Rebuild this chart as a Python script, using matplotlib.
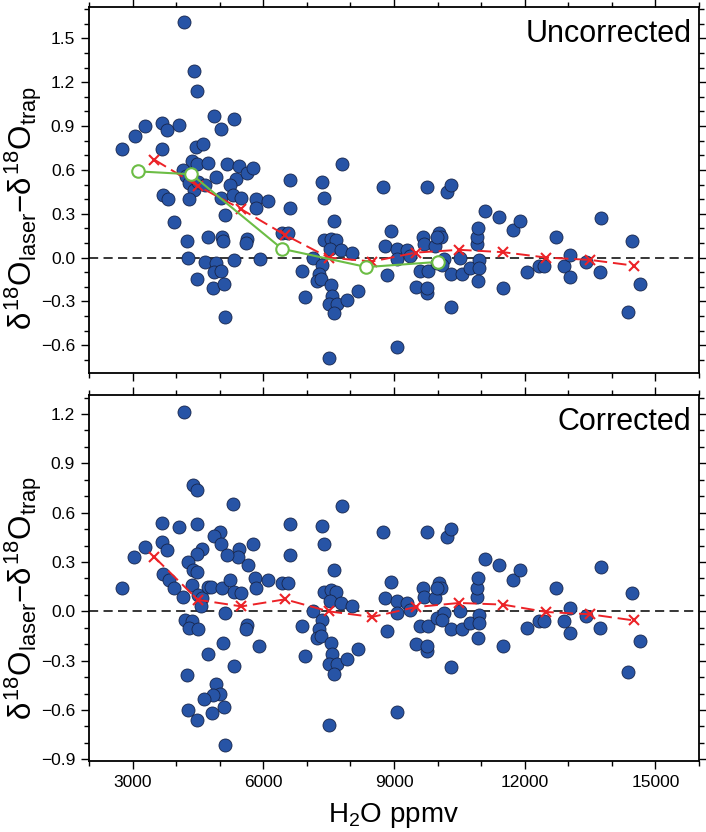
import matplotlib
matplotlib.use("Agg")
import matplotlib.pyplot as plt
from matplotlib.ticker import MultipleLocator, FuncFormatter

plt.rcParams['font.family'] = ['Liberation Sans', 'DejaVu Sans']
plt.rcParams['mathtext.fontset'] = 'custom'
plt.rcParams['mathtext.rm'] = 'Liberation Sans'
plt.rcParams['mathtext.it'] = 'Liberation Sans'
plt.rcParams['mathtext.bf'] = 'Liberation Sans:bold'

# low-humidity points (differ between the two panels)
x_unc_low = [4188, 4402, 4479, 2755, 3046, 3291, 3674, 3782, 3682, 4073,
             4862, 5023, 5322, 4464, 4609, 4364, 4479, 4732, 4165, 4226,
             4303, 4418, 4494, 4663, 4287, 3705, 3820, 3958, 4916, 5161,
             5437, 5375, 5230, 5038, 5307, 5491, 5123, 5621, 5759, 5828,
             5828, 6111, 4249, 4272, 4732, 5054, 5077, 5621, 5605, 4655,
             4908, 4877, 5031, 5337, 5920, 4479, 4839, 5100, 5115]
y_unc_low = [1.61, 1.28, 1.14, 0.74, 0.83, 0.90, 0.92, 0.87, 0.74, 0.91,
             0.97, 0.88, 0.95, 0.76, 0.78, 0.66, 0.64, 0.65, 0.60, 0.56,
             0.51, 0.46, 0.52, 0.50, 0.40, 0.43, 0.40, 0.24, 0.55, 0.64,
             0.63, 0.54, 0.50, 0.41, 0.43, 0.41, 0.29, 0.58, 0.61, 0.40,
             0.34, 0.39, 0.11, 0.00, 0.14, 0.14, 0.11, 0.13, 0.10, -0.03,
             -0.04, -0.10, -0.09, -0.02, -0.01, -0.15, -0.21, -0.18, -0.41]

x_cor_low = [4188, 4395, 4479, 5314, 3674, 4073, 4471, 5000, 4877, 5031,
             5759, 3276, 3038, 3682, 3782, 4602, 4471, 4264, 5452, 5414,
             5169, 5644, 4379, 4479, 3705, 3828, 3943, 2755, 4356, 4165,
             4494, 4586, 4571, 4724, 4801, 5054, 5230, 5322, 5491, 5820,
             5828, 6111, 4195, 4356, 4295, 4510, 5115, 5628, 5605, 5912,
             5077, 4724, 5322, 4241, 4916, 5015, 4854, 4648, 5092, 4272,
             4831, 4479, 5123]
y_cor_low = [1.21, 0.77, 0.74, 0.65, 0.54, 0.51, 0.53, 0.48, 0.46, 0.41,
             0.41, 0.39, 0.33, 0.42, 0.37, 0.38, 0.35, 0.30, 0.38, 0.33,
             0.34, 0.28, 0.25, 0.24, 0.23, 0.19, 0.14, 0.14, 0.16, 0.09,
             0.10, 0.08, 0.03, 0.15, 0.15, 0.14, 0.19, 0.12, 0.11, 0.20,
             0.14, 0.19, -0.05, -0.06, -0.10, -0.11, -0.01, -0.08, -0.11, -0.21,
             -0.19, -0.26, -0.33, -0.39, -0.44, -0.50, -0.51, -0.53, -0.58, -0.60,
             -0.62, -0.66, -0.81]

# higher-humidity points (same in both panels)
x_common = [6425, 6563, 6609, 6609, 7352, 7398, 7621, 7812, 7406, 7559,
            7659, 7521, 7789, 8034, 7138, 7352, 6885, 7276, 7238, 7330,
            7559, 7575, 6969, 7513, 7682, 7628, 7927, 8172, 7498, 8755,
            8923, 8785, 8847, 9077, 9061, 9307, 9368, 9077, 9498, 9598,
            9782, 9766, 9751, 9766, 9659, 9690, 9935, 10034, 10073, 9981,
            9996, 10149, 10111, 10211, 10303, 10318, 10303, 10556, 10510, 10747,
            10916, 10900, 10931, 10962, 10962, 10931, 11100, 11414, 11506, 11743,
            11897, 12050, 12318, 12433, 12724, 12908, 13031, 13046, 13398, 13720,
            13751, 14364, 14456, 14655]
y_common = [0.17, 0.17, 0.53, 0.34, 0.52, 0.41, 0.25, 0.64, 0.12, 0.13,
            0.12, 0.06, 0.05, 0.03, 0.00, -0.05, -0.09, -0.11, -0.16, -0.15,
            -0.19, -0.26, -0.27, -0.32, -0.32, -0.38, -0.29, -0.23, -0.69, 0.48,
            0.18, 0.08, -0.12, 0.06, -0.01, 0.05, 0.01, -0.61, -0.20, -0.09,
            -0.09, 0.48, -0.24, -0.21, 0.14, 0.09, 0.08, 0.17, 0.14, 0.14,
            -0.04, -0.01, -0.05, 0.45, 0.50, -0.34, -0.11, -0.11, 0.00, -0.07,
            0.09, 0.14, 0.20, -0.02, -0.07, -0.16, 0.32, 0.28, -0.21, 0.19,
            0.25, -0.10, -0.06, -0.06, 0.14, -0.06, 0.02, -0.13, -0.03, -0.10,
            0.27, -0.37, 0.11, -0.18]

# binned means (red) and reference curve (green)
bin_x = [3500, 4500, 5500, 6500, 7500, 8500, 9500, 10500, 11500, 12500, 13500, 14500]
bin_unc = [0.67, 0.49, 0.33, 0.155, 0.0, -0.027, 0.034, 0.053, 0.037, 0.0, -0.016, -0.055]
bin_cor = [0.33, 0.07, 0.03, 0.073, 0.0, -0.034, 0.026, 0.051, 0.041, -0.004, -0.018, -0.055]
green_x = [3120, 4350, 6430, 8370, 10000]
green_y = [0.59, 0.57, 0.06, -0.065, -0.03]

blue = '#2754a6'
edge = '#17254a'
red = '#ec2227'
green = '#6cbd45'


def fmt_y(v, pos):
    s = '%.1f' % v
    if s == '-0.0':
        s = '0.0'
    return s.replace('-', '\u2212')


fig = plt.figure(figsize=(7.06, 8.32), dpi=100)
ax1 = fig.add_axes([0.126, 0.5517, 0.864, 0.4399])
ax2 = fig.add_axes([0.126, 0.0853, 0.864, 0.4399])

panels = [
    (ax1, x_unc_low, y_unc_low, bin_unc, 'Uncorrected', (-0.79, 1.715)),
    (ax2, x_cor_low, y_cor_low, bin_cor, 'Corrected', (-0.91, 1.315)),
]

for ax, xl, yl, bins, title, ylim in panels:
    ax.axhline(0, color='black', lw=1.1, dashes=(6, 3.5), zorder=1)
    ax.scatter(xl + x_common, yl + y_common, s=88, color=blue,
               edgecolors=edge, linewidths=0.6, zorder=2)
    ax.plot(bin_x, bins, color=red, lw=1.4, dashes=(7, 3), marker='x',
            ms=7, mew=1.5, zorder=4)
    ax.text(0.988, 0.968, title, transform=ax.transAxes, ha='right', va='top',
            fontsize=22)
    ax.set_xlim(2000, 16000)
    ax.set_ylim(*ylim)
    ax.xaxis.set_major_locator(MultipleLocator(3000))
    ax.xaxis.set_minor_locator(MultipleLocator(1000))
    ax.yaxis.set_major_locator(MultipleLocator(0.3))
    ax.yaxis.set_minor_locator(MultipleLocator(0.1))
    ax.yaxis.set_major_formatter(FuncFormatter(fmt_y))
    ax.tick_params(which='both', direction='out', top=True, right=True,
                   width=1.0, labelsize=12.5)
    ax.tick_params(which='major', length=6, pad=4)
    ax.tick_params(which='minor', length=3.5)
    for sp in ax.spines.values():
        sp.set_linewidth(1.3)
    ax.set_ylabel(r'$\delta^{18}\mathrm{O}_{\mathrm{laser}}{-}\delta^{18}\mathrm{O}_{\mathrm{trap}}$',
                  fontsize=22.5)

ax1.plot(green_x, green_y, color=green, lw=1.5, marker='o', ms=9,
         mfc='white', mec=green, mew=1.5, zorder=5)
ax1.tick_params(labelbottom=False)
ax1.yaxis.set_label_coords(-0.074, 0.45)
ax2.yaxis.set_label_coords(-0.074, 0.445)
ax2.set_xlabel(r'H$_2$O ppmv', fontsize=20, labelpad=8)

fig.savefig('out.png', dpi=100)
